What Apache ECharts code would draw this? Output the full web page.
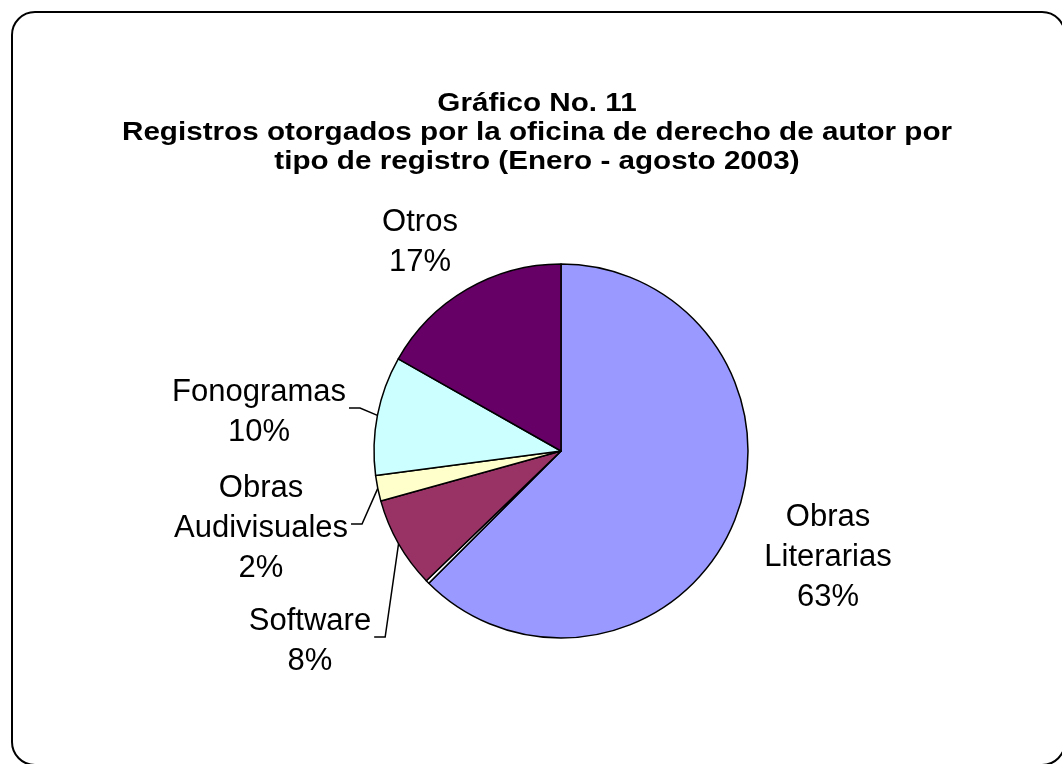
<!DOCTYPE html>
<html><head><meta charset="utf-8">
<script src="https://cdn.jsdelivr.net/npm/echarts@6/dist/echarts.min.js"></script>
<style>html,body{margin:0;padding:0;background:#fff}#c{width:1062px;height:764px}</style>
</head><body><div id="c"></div>
<script>
const categories = ['Obras\nLiterarias', '', 'Software', 'Obras\nAudivisuales', 'Fonogramas', 'Otros'];
const values = [62.5, 0.3, 7.9, 2.2, 10.3, 16.8];
const colors = ['#9999FF', '#FFFFFF', '#993366', '#FFFFCC', '#CCFFFF', '#660066'];
const showLine = [false, false, true, true, true, false];
const titleLines = ['Gráfico No. 11', 'Registros otorgados por la oficina de derecho de autor por', 'tipo de registro (Enero - agosto 2003)'];

// label centre offsets from the pie centre (layout only)
const CX = 561, CY = 451, R = 187;
const labelOffsets = [[267, 106], null, [-251, 190], [-300, 77], [-302, -39], [-141, -209]];

const FONT = "'Liberation Sans', Arial, sans-serif";
const chart = echarts.init(document.getElementById('c'), null, {renderer: 'canvas'});

const data = categories.map((n, i) => ({
  name: n,
  value: values[i],
  itemStyle: {color: colors[i]},
  label: {show: n !== ''},
  labelLine: {show: showLine[i]}
}));

chart.setOption({
  animation: false,
  backgroundColor: '#fff',
  graphic: [{
    type: 'rect', left: 11, top: 11, z: -1,
    shape: {width: 1053, height: 753, r: 23},
    style: {fill: '#fff', stroke: '#000', lineWidth: 2}
  }, {
    type: 'text', x: 537, y: 89, scaleX: 1.14, z: 10,
    style: {
      text: titleLines.join('\n'),
      font: "bold 26px 'Liberation Sans', Arial, sans-serif",
      fill: '#000', align: 'center', verticalAlign: 'top', lineHeight: 29
    }
  }],
  series: [{
    type: 'pie',
    center: [CX, CY],
    radius: [0, R],
    startAngle: 90,
    clockwise: true,
    avoidLabelOverlap: false,
    itemStyle: {borderColor: '#000', borderWidth: 1.5},
    label: {
      position: 'outside',
      fontFamily: FONT, fontSize: 31, color: '#000', lineHeight: 40,
      align: 'center',
      formatter: p => p.name + '\n' + Math.round(p.percent) + '%'
    },
    labelLine: {lineStyle: {color: '#000', width: 1.5}, length: 10, length2: 10},
    emphasis: {disabled: true},
    labelLayout: function (params) {
      const off = labelOffsets[params.dataIndex];
      if (!off) return {};
      const x = CX + off[0], y = CY + off[1];
      const res = {x: x, y: y, align: 'center', verticalAlign: 'middle'};
      if (showLine[params.dataIndex] && params.labelLinePoints) {
        const p0 = params.labelLinePoints[0];
        const endX = x + params.labelRect.width / 2 + 3;
        const endY = y - 4;
        res.labelLinePoints = [[endX, endY], [endX + 11, endY], p0];
      }
      return res;
    },
    data: data
  }]
});
</script>
</body></html>
